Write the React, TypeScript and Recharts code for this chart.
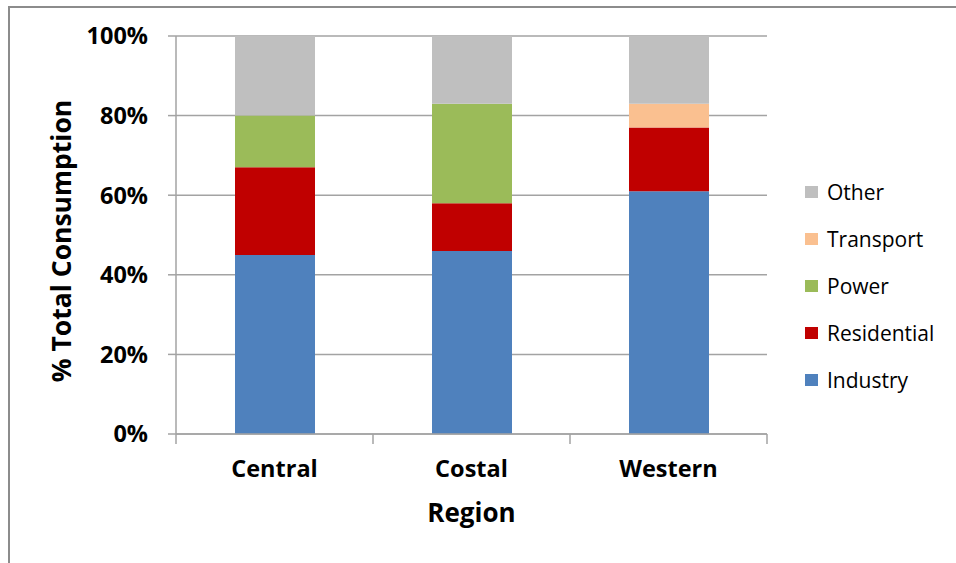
import React from 'react';
import { BarChart, Bar, XAxis, YAxis, CartesianGrid, Legend } from 'recharts';

const categories = ['Central', 'Costal', 'Western'];
const industry = [45, 46, 61];
const residential = [22, 12, 16];
const power = [13, 25, 0];
const transport = [0, 0, 6];
const other = [20, 17, 17];
const yTicks = [0, 20, 40, 60, 80, 100];

const seriesNames = ['Industry', 'Residential', 'Power', 'Transport', 'Other'];
const seriesColors = ['#4F81BD', '#C00000', '#9BBB59', '#FAC090', '#BFBFBF'];
const seriesValues = [industry, residential, power, transport, other];

const data = categories.map((c, i) => {
  const row: Record<string, any> = { region: c };
  seriesNames.forEach((s, k) => {
    row[s] = seriesValues[k][i];
  });
  return row;
});

const FONT = '"Open Sans", Lato, sans-serif';
const GRAY = '#a3a3a3';
const CHART_W = 956;
const MARGIN = { top: 36, right: 189, bottom: 0, left: 0 };
const Y_AXIS_W = 176;
const X_TICK_MARGIN = 26;

const LegendContent = (props: any) => {
  const items = [...(props.payload || [])].sort(
    (a: any, b: any) => seriesNames.indexOf(b.value) - seriesNames.indexOf(a.value)
  );
  return (
    <div style={{ fontFamily: FONT }}>
      {items.map((it: any) => (
        <div key={it.value} style={{ display: 'flex', alignItems: 'center', height: 46.9 }}>
          <div style={{ width: 13, height: 12, background: it.color, marginRight: 9 }} />
          <span style={{ fontSize: 21, color: '#000' }}>{it.value}</span>
        </div>
      ))}
    </div>
  );
};

const YLabel = (props: any) => {
  const vb = props.viewBox || { x: 0, y: 0, width: 0, height: 0 };
  const cx = vb.x + vb.width - 115;
  const cy = vb.y + vb.height / 2 + 6;
  return (
    <text
      x={cx}
      y={cy}
      transform={`rotate(-90, ${cx}, ${cy})`}
      textAnchor="middle"
      dominantBaseline="central"
      fontFamily={FONT}
      fontWeight={700}
      fontSize={26.5}
      fill="#000"
    >
      % Total Consumption
    </text>
  );
};

const CatTick = (props: any) => {
  const { x, y, payload, index } = props;
  const fallbackHalf = (CHART_W - MARGIN.left - MARGIN.right - Y_AXIS_W) / categories.length / 2;
  const half = payload && typeof payload.offset === 'number' && payload.offset > 0 ? payload.offset : fallbackHalf;
  const axisY = y - X_TICK_MARGIN;
  const isLast = index === categories.length - 1;
  return (
    <g>
      <line x1={x - half} x2={x - half} y1={axisY} y2={axisY + 10} stroke={GRAY} strokeWidth={1.5} />
      {isLast && (
        <line x1={x + half} x2={x + half} y1={axisY} y2={axisY + 10} stroke={GRAY} strokeWidth={1.5} />
      )}
      <text
        x={x}
        y={y}
        dy="0.71em"
        textAnchor="middle"
        fontFamily={FONT}
        fontWeight={700}
        fontSize={23.5}
        fill="#000"
      >
        {payload.value}
      </text>
    </g>
  );
};

export default function App() {
  return (
    <div
      style={{
        position: 'fixed',
        left: 0,
        top: 0,
        width: 956,
        height: 563,
        overflow: 'hidden',
        background: '#fff',
      }}
    >
      <div style={{ position: 'absolute', left: 0, top: 0 }}>
        <BarChart width={CHART_W} height={563} data={data} margin={MARGIN}>
          <CartesianGrid vertical={false} stroke={GRAY} strokeWidth={1.5} />
          <XAxis
            dataKey="region"
            height={129}
            axisLine={{ stroke: GRAY, strokeWidth: 1.5 }}
            tickLine={false}
            tickSize={0}
            tickMargin={X_TICK_MARGIN}
            tick={<CatTick />}
            label={{
              value: 'Region',
              position: 'insideTop',
              offset: 70,
              fontFamily: FONT,
              fontWeight: 700,
              fontSize: 26,
              fill: '#000',
            }}
          />
          <YAxis
            width={Y_AXIS_W}
            domain={[0, 100]}
            ticks={yTicks}
            tickFormatter={(v: number) => `${v}%`}
            tickSize={8}
            tickMargin={20}
            tick={{ fontFamily: FONT, fontWeight: 700, fontSize: 23.5, fill: '#000' }}
            tickLine={{ stroke: GRAY, strokeWidth: 1.5 }}
            axisLine={{ stroke: GRAY, strokeWidth: 1.5 }}
            label={<YLabel />}
          />
          <Legend
            layout="vertical"
            align="center"
            verticalAlign="middle"
            content={<LegendContent />}
            wrapperStyle={{ left: 805, top: 169, width: 150 }}
          />
          {seriesNames.map((s, k) => (
            <Bar
              key={s}
              dataKey={s}
              stackId="a"
              fill={seriesColors[k]}
              barSize={80}
              isAnimationActive={false}
            />
          ))}
        </BarChart>
      </div>
      <div
        style={{
          position: 'absolute',
          left: 8,
          top: 6,
          width: 2000,
          height: 2000,
          borderLeft: '2px solid #8c8c8c',
          borderTop: '2px solid #8c8c8c',
          zIndex: 5,
          pointerEvents: 'none',
        }}
      />
    </div>
  );
}
